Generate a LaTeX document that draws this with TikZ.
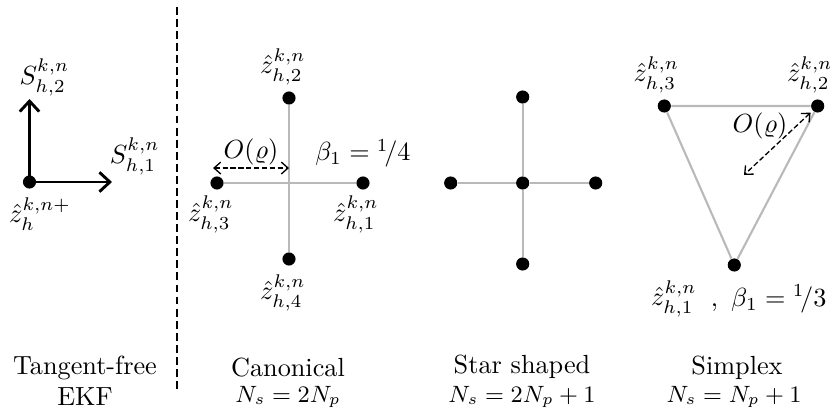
\documentclass[tikz,border=0pt]{standalone}
\usepackage{amsmath}
\usetikzlibrary{arrows.meta,positioning}

\begin{document}
\begin{tikzpicture}[x=0.0134cm, y=-0.0134cm,
    sample/.style={circle, fill=black, inner sep=0pt, minimum size=5pt},
    lbl/.style={inner sep=1pt},
    grayline/.style={gray!55, line width=0.8pt},
    axis/.style={-{Straight Barb[length=1.4mm, width=2.6mm]}, line width=1.1pt},
    dimarrow/.style={{Straight Barb[length=0.9mm, width=1.6mm]}-{Straight Barb[length=0.9mm, width=1.6mm]}, dash pattern=on 2pt off 1pt, line width=0.5pt},
    divider/.style={dash pattern=on 3pt off 1.6pt, line width=0.6pt},
    caption/.style={anchor=base, inner sep=0pt},
    formula/.style={anchor=base, inner sep=0pt, font=\small}
  ]
  \useasboundingbox (0,0) rectangle (830,411);

  % tangent-free EKF
  \node[sample] (t0) at (29.5,182) {};
  \coordinate (t1) at (112,182);
  \coordinate (t2) at (29.5,99);
  \draw[axis] (t0.center) -- (t1);
  \draw[axis] (t0.center) -- (t2);
  \node[lbl, above=0pt of t2, xshift=5.7pt] (s2lbl) {$S^{k,n}_{h,2}$};
  \node[lbl, above right=1.5pt and -2pt of t1] (s1lbl) {$S^{k,n}_{h,1}$};
  \node[lbl, below=2pt of t0, xshift=4pt] (t0lbl) {$\hat{z}^{k,n+}_{h}$};

  \draw[divider] (177,7) -- (177,390);

  % canonical
  \coordinate (cc) at (289,183);
  \node[sample] (c1) at (363,183) {};
  \node[sample] (c2) at (289,98) {};
  \node[sample] (c3) at (217,183) {};
  \node[sample] (c4) at (289,259) {};
  \draw[grayline] (c3) -- (c1);
  \draw[grayline] (c2) -- (c4);
  \node[lbl, below=1pt of c1, xshift=-2.7pt] (c1lbl) {$\hat{z}^{k,n}_{h,1}$};
  \node[lbl, above=1pt of c2, xshift=-2.3pt] (c2lbl) {$\hat{z}^{k,n}_{h,2}$};
  \node[lbl, below=1pt of c3, xshift=-2.3pt] (c3lbl) {$\hat{z}^{k,n}_{h,3}$};
  \node[lbl, below=2pt of c4, xshift=-2.3pt] (c4lbl) {$\hat{z}^{k,n}_{h,4}$};
  \draw[dimarrow] ([xshift=-1.5pt, yshift=5.7pt]c3.center) -- ([yshift=5.7pt]cc)
    node[midway, above, lbl] (corho) {$O(\varrho)$};
  \node[lbl, above=2pt of c1] (cbeta) {$\beta_1 = {}^{1}\!/4$};

  % star shaped
  \node[sample] (r0) at (522.7,183) {};
  \node[sample] (r1) at (595.7,183) {};
  \node[sample] (r2) at (522.7,97) {};
  \node[sample] (r3) at (450.7,183) {};
  \node[sample] (r4) at (522.7,264) {};
  \foreach \i in {1,...,4} {
    \draw[grayline] (r0) -- (r\i);
  }

  % simplex
  \node[sample] (s1) at (734.3,265) {};
  \node[sample] (s2) at (817.7,106) {};
  \node[sample] (s3) at (664.3,106) {};
  \draw[grayline] (s1) -- (s2) -- (s3) -- (s1);
  \node[lbl, below=2pt of s1, xshift=-23pt] (z1lbl) {$\hat{z}^{k,n}_{h,1}$};
  \node[lbl, above=1pt of s2, xshift=-3pt] (z2lbl) {$\hat{z}^{k,n}_{h,2}$};
  \node[lbl, above=1pt of s3, xshift=-3pt] (z3lbl) {$\hat{z}^{k,n}_{h,3}$};
  \node[lbl, right=3pt of z1lbl] (sbeta) {$,\ \beta_1 = {}^{1}\!/3$};
  \coordinate (sm) at (744,175);
  \draw[dimarrow, shorten <=1pt] (s2) -- (sm)
    node[pos=0.4, above left=-3pt, lbl] (srho) {$O(\varrho)$};

  % captions
  \node[anchor=north, align=center, inner sep=0pt] (captf) at (85,355) {Tangent-free\\EKF};
  \node[caption] (capcan) at (288,376) {Canonical};
  \node[caption] (capstar) at (522,373) {Star shaped};
  \node[caption] (capsim) at (737,374) {Simplex};
  \node[formula] (fcan) at (288,402) {$N_s = 2N_p$};
  \node[formula] (fstar) at (522,402) {$N_s = 2N_p + 1$};
  \node[formula] (fsim) at (734,402) {$N_s = N_p + 1$};
\end{tikzpicture}
\end{document}
